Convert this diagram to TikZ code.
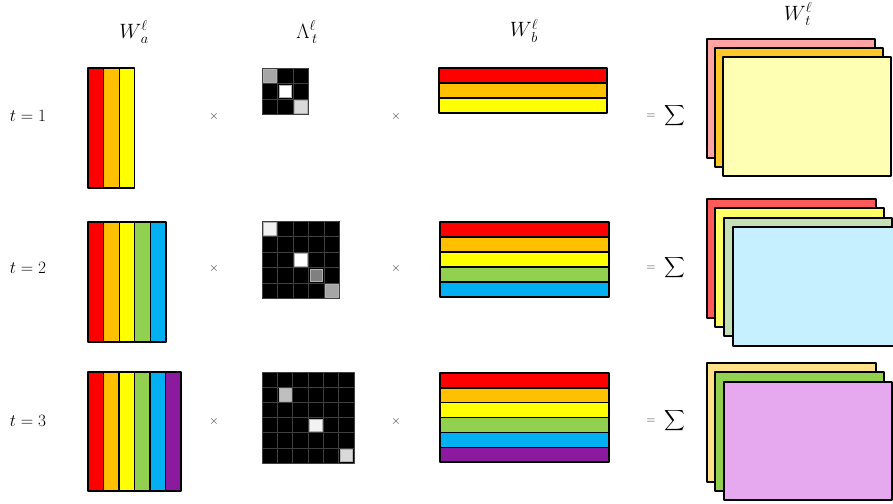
\documentclass[tikz,border=0pt]{standalone}
\usepackage{amsmath}
\usepackage{tikz}
\usetikzlibrary{positioning}

\DeclareMathSizes{21}{21}{15}{11}

\definecolor{cred}{HTML}{FF0000}
\definecolor{corange}{HTML}{FFC000}
\definecolor{cyellow}{HTML}{FFFF00}
\definecolor{cgreen}{HTML}{92D050}
\definecolor{cblue}{HTML}{00B0F0}
\definecolor{cpurple}{HTML}{8C1A9E}

\begin{document}
\begin{tikzpicture}[x=1pt, y=-1pt, line join=round]
   % Styles
   \tikzset{
    stripe/.style={draw=black, line width=1.3pt},
    grid/.style={draw=black!75, line width=0.5pt},
    dcell/.style={draw=gray!60, line width=0.5pt},
    sheet/.style={draw=black, line width=1.4pt},
    lbl/.style={font=\fontsize{16}{19}\selectfont, inner sep=0pt},
    head/.style={font=\fontsize{21}{25}\selectfont, inner sep=0pt},
    op/.style={font=\fontsize{13}{15}\selectfont, text=black!80, inner sep=0pt},
    sumsym/.style={font=\fontsize{15}{18}\selectfont, inner sep=0pt}
   }
  \path[use as bounding box, clip] (0,0) rectangle (893,503);

  % Column labels
  \node[head] (lblWa)  at (134,32) {$W^{\ell}_{\,a}$};
  \node[head] (lblLam) at (307,32) {$\Lambda^{\ell}_{\,t}$};
  \node[head] (lblWb)  at (524,31) {$W^{\ell}_{\,b}$};
  \node[head] (lblWt)  at (798,14) {$W^{\ell}_{\,t}$};

  % Row labels and operators
  \foreach \r/\y in {1/116, 2/268, 3/421} {
    \node[lbl] (t\r) at (28,\y) {$t=\r$};
    \node[op] (timesa\r) at (214,\y) {$\times$};
    \node[op] (timesb\r) at (396,\y) {$\times$};
    \node[op] (eq\r) at (651,\y) {$=$};
    \node[sumsym, right=9pt of eq\r] (sum\r) {$\displaystyle\sum$};
  }

  % W_a (columns)
  \foreach \c [count=\i from 0] in {cred,corange,cyellow}
    \draw[stripe, fill=\c] (88+15.6*\i,68) rectangle ++(15.6,120);
  \foreach \c [count=\i from 0] in {cred,corange,cyellow,cgreen,cblue}
    \draw[stripe, fill=\c] (88+15.6*\i,222) rectangle ++(15.6,120);
  \foreach \c [count=\i from 0] in {cred,corange,cyellow,cgreen,cblue,cpurple}
    \draw[stripe, fill=\c] (88+15.5*\i,372) rectangle ++(15.5,119);

  % Lambda (diagonal)
  \fill[black] (262,68) rectangle ++(46.5,46.5);
  \draw[grid] (262,68) rectangle ++(46.5,46.5);
  \foreach \i in {1,2} {
    \draw[grid] (262+15.5*\i,68) -- ++(0,46.5);
    \draw[grid] (262,68+15.5*\i) -- ++(46.5,0);
  }
  \foreach \k/\g in {0/gray!70, 1/white, 2/gray!30}
    \draw[dcell, fill=\g] (263.5+15.5*\k,69.5+15.5*\k) rectangle ++(12.5,12.5);

  \fill[black] (262,221) rectangle ++(77.5,77.5);
  \draw[grid] (262,221) rectangle ++(77.5,77.5);
  \foreach \i in {1,...,4} {
    \draw[grid] (262+15.5*\i,221) -- ++(0,77.5);
    \draw[grid] (262,221+15.5*\i) -- ++(77.5,0);
  }
  \foreach \k/\g in {0/black!5, 2/white, 3/gray, 4/gray!70}
    \draw[dcell, fill=\g] (263.5+15.5*\k,222.5+15.5*\k) rectangle ++(12.5,12.5);

  \fill[black] (262,372) rectangle ++(92,91);
  \draw[grid] (262,372) rectangle ++(92,91);
  \foreach \i in {1,...,5} {
    \draw[grid] (262+15.33*\i,372) -- ++(0,91);
    \draw[grid] (262,372+15.17*\i) -- ++(92,0);
  }
  \foreach \k/\g in {1/gray!50, 3/black!5, 5/gray!30}
    \draw[dcell, fill=\g] (263.5+15.33*\k,373.5+15.17*\k) rectangle ++(12.3,12.3);

  % W_b (rows)
  \foreach \c [count=\i from 0] in {cred,corange,cyellow}
    \draw[stripe, fill=\c] (439,68+15*\i) rectangle ++(168,15);
  \foreach \c [count=\i from 0] in {cred,corange,cyellow,cgreen,cblue}
    \draw[stripe, fill=\c] (440,222+15*\i) rectangle ++(169,15);
  \foreach \c [count=\i from 0] in {cred,corange,cyellow,cgreen,cblue,cpurple}
    \draw[stripe, fill=\c] (440,373+14.85*\i) rectangle ++(169,14.85);

  % W_t (stacked sheets)
  \draw[sheet, fill={rgb,255:red,255;green,163;blue,163}] (707,39) rectangle ++(168,119);
  \draw[sheet, fill={rgb,255:red,255;green,199;blue,41}]  (715,48) rectangle ++(168,119);
  \draw[sheet, fill={rgb,255:red,255;green,255;blue,179}] (723,57) rectangle ++(168,119);

  \draw[sheet, fill={rgb,255:red,255;green,91;blue,91}]   (707,199) rectangle ++(169,119);
  \draw[sheet, fill={rgb,255:red,255;green,255;blue,102}] (715,208) rectangle ++(169,119);
  \draw[sheet, fill={rgb,255:red,197;green,224;blue,180}] (724,218) rectangle ++(168,118);
  \draw[sheet, fill={rgb,255:red,198;green,239;blue,255}] (733,227) rectangle ++(168,119);

  \draw[sheet, fill={rgb,255:red,255;green,224;blue,138}] (707,363) rectangle ++(169,119);
  \draw[sheet, fill=cgreen] (715,372) rectangle ++(169,119);
  \draw[sheet, fill={rgb,255:red,230;green,168;blue,239}] (724,382) rectangle ++(168,118);
\end{tikzpicture}
\end{document}
